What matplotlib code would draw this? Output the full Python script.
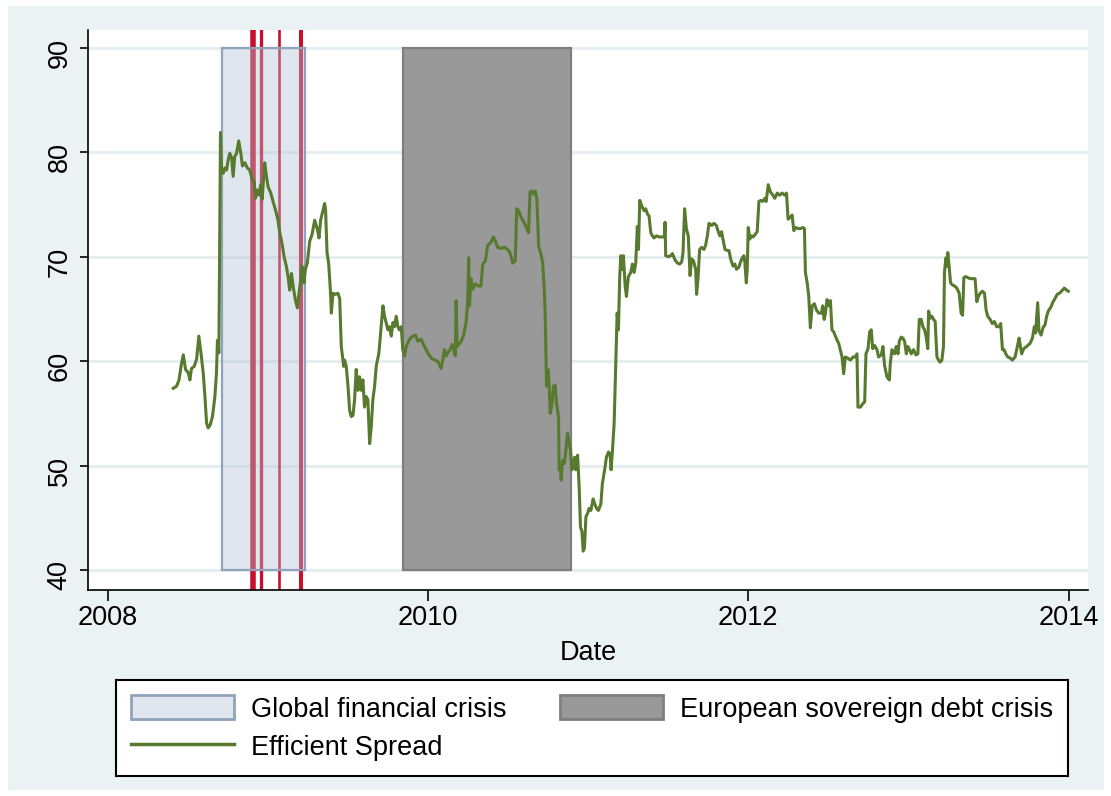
import numpy as np
import matplotlib.pyplot as plt
from matplotlib.patches import Rectangle, Patch
from matplotlib.lines import Line2D

plt.rcParams['font.family'] = ['Liberation Sans', 'DejaVu Sans']

# ------------------------------------------------------------
# DATA (decimal years)
# ------------------------------------------------------------
dates = [
    2008.410, 2008.431, 2008.446, 2008.462, 2008.473, 2008.487, 2008.504, 2008.514, 2008.524, 2008.541,
    2008.556, 2008.570, 2008.583, 2008.597, 2008.608, 2008.618, 2008.628, 2008.641, 2008.655, 2008.670,
    2008.680, 2008.686, 2008.695, 2008.701, 2008.705, 2008.711, 2008.722, 2008.732, 2008.743, 2008.753,
    2008.763, 2008.774, 2008.784, 2008.794, 2008.805, 2008.819, 2008.832, 2008.842, 2008.857, 2008.873,
    2008.888, 2008.902, 2008.915, 2008.923, 2008.936, 2008.946, 2008.956, 2008.965, 2008.975, 2008.981,
    2008.992, 2009.002, 2009.019, 2009.033, 2009.048, 2009.064, 2009.075, 2009.089, 2009.102, 2009.116,
    2009.127, 2009.137, 2009.148, 2009.158, 2009.172, 2009.185, 2009.195, 2009.206, 2009.214, 2009.226,
    2009.235, 2009.247, 2009.262, 2009.276, 2009.293, 2009.310, 2009.320, 2009.330, 2009.341, 2009.355,
    2009.361, 2009.370, 2009.380, 2009.391, 2009.397, 2009.407, 2009.422, 2009.438, 2009.449, 2009.459,
    2009.474, 2009.480,
    2009.490, 2009.501, 2009.511, 2009.521, 2009.532, 2009.542, 2009.552, 2009.563, 2009.573, 2009.584,
    2009.594, 2009.604, 2009.615, 2009.625, 2009.636, 2009.646, 2009.656, 2009.667, 2009.677, 2009.694,
    2009.708, 2009.719, 2009.729, 2009.739, 2009.750, 2009.760, 2009.771, 2009.781, 2009.791, 2009.802,
    2009.812, 2009.822, 2009.833, 2009.843, 2009.854, 2009.864, 2009.885, 2009.906, 2009.922, 2009.937,
    2009.957, 2009.978, 2009.999, 2010.020, 2010.041, 2010.061, 2010.082, 2010.092, 2010.103, 2010.113,
    2010.124, 2010.138, 2010.151, 2010.159, 2010.171, 2010.176, 2010.182, 2010.192, 2010.207, 2010.221,
    2010.238, 2010.248, 2010.254, 2010.259, 2010.269, 2010.279, 2010.296, 2010.311, 2010.331, 2010.342,
    2010.358, 2010.373, 2010.394, 2010.408, 2010.421, 2010.435, 2010.456, 2010.477, 2010.497,
    2010.508, 2010.518, 2010.529, 2010.545, 2010.554, 2010.566, 2010.581, 2010.595, 2010.612, 2010.628,
    2010.637, 2010.649, 2010.659, 2010.670, 2010.680, 2010.691, 2010.703, 2010.716, 2010.726, 2010.732,
    2010.740, 2010.749, 2010.757, 2010.763, 2010.774, 2010.784, 2010.794, 2010.803, 2010.815, 2010.819,
    2010.826, 2010.832, 2010.840, 2010.851, 2010.861, 2010.871, 2010.882, 2010.890, 2010.898, 2010.907,
    2010.915, 2010.923, 2010.934, 2010.944, 2010.952, 2010.961, 2010.969, 2010.977, 2010.986, 2010.996,
    2011.006, 2011.017, 2011.031, 2011.042, 2011.052, 2011.064, 2011.079, 2011.089, 2011.106, 2011.114,
    2011.127, 2011.137, 2011.143, 2011.152, 2011.162, 2011.172, 2011.181, 2011.189, 2011.197, 2011.204,
    2011.214, 2011.220, 2011.231, 2011.239, 2011.251, 2011.266, 2011.276, 2011.287, 2011.297, 2011.307,
    2011.314, 2011.322, 2011.334, 2011.349, 2011.359, 2011.370, 2011.380, 2011.391, 2011.401, 2011.411,
    2011.426, 2011.442, 2011.459, 2011.476, 2011.480, 2011.484, 2011.501, 2011.515, 2011.526, 2011.542,
    2011.557,
    2011.571, 2011.584, 2011.592, 2011.602, 2011.613, 2011.625, 2011.636, 2011.646, 2011.658, 2011.671,
    2011.677, 2011.685, 2011.696, 2011.708, 2011.723, 2011.733, 2011.744, 2011.754, 2011.771, 2011.785,
    2011.800, 2011.812, 2011.822, 2011.833, 2011.841, 2011.854, 2011.868, 2011.879, 2011.889, 2011.904,
    2011.916, 2011.926, 2011.941, 2011.951, 2011.962, 2011.972, 2011.978, 2011.987, 2011.993, 2011.999,
    2012.009, 2012.020, 2012.030, 2012.045, 2012.055, 2012.066, 2012.078, 2012.090, 2012.103, 2012.111,
    2012.124, 2012.138, 2012.153, 2012.165, 2012.180, 2012.194, 2012.211, 2012.227, 2012.238, 2012.248,
    2012.263, 2012.273, 2012.284, 2012.294, 2012.311, 2012.325, 2012.340, 2012.350, 2012.356, 2012.367,
    2012.377, 2012.387, 2012.398, 2012.412, 2012.425, 2012.439, 2012.456, 2012.464, 2012.473, 2012.481,
    2012.491, 2012.502, 2012.512, 2012.522, 2012.533, 2012.543, 2012.554, 2012.564, 2012.574, 2012.585,
    2012.595, 2012.605, 2012.620, 2012.637, 2012.653, 2012.668, 2012.678, 2012.684,
    2012.699, 2012.713, 2012.726, 2012.734, 2012.747, 2012.757, 2012.767, 2012.776, 2012.788, 2012.803,
    2012.813, 2012.830, 2012.840, 2012.850, 2012.865, 2012.880, 2012.886, 2012.896, 2012.913, 2012.923,
    2012.934, 2012.942, 2012.954, 2012.965, 2012.975, 2012.986, 2012.996, 2013.006, 2013.017, 2013.031,
    2013.046, 2013.058, 2013.067, 2013.079, 2013.089, 2013.100, 2013.110, 2013.120, 2013.125, 2013.135,
    2013.145, 2013.156, 2013.166, 2013.177, 2013.187, 2013.197, 2013.208, 2013.218, 2013.224, 2013.233,
    2013.239, 2013.245, 2013.253, 2013.262, 2013.274, 2013.287, 2013.301, 2013.316, 2013.328, 2013.337,
    2013.345, 2013.357, 2013.370, 2013.384, 2013.399, 2013.415, 2013.426, 2013.436, 2013.447, 2013.461,
    2013.474, 2013.484, 2013.494, 2013.509, 2013.523, 2013.536, 2013.550, 2013.565, 2013.575, 2013.586,
    2013.596, 2013.607, 2013.619, 2013.634, 2013.648, 2013.665, 2013.679, 2013.690, 2013.698, 2013.706,
    2013.719, 2013.737, 2013.758, 2013.773, 2013.785, 2013.793, 2013.806, 2013.814, 2013.827, 2013.839,
    2013.852, 2013.862, 2013.872, 2013.889, 2013.899, 2013.914, 2013.928, 2013.941, 2013.955, 2013.972,
    2013.987, 2013.997,
]

spread = [
    57.4, 57.6, 58.2, 59.8, 60.6, 59.2, 58.9, 58.2, 59.3, 59.5,
    60.2, 62.4, 60.8, 58.9, 56.6, 54.1, 53.6, 53.9, 54.7, 56.6,
    58.9, 62.0, 60.8, 73.5, 81.9, 78.3, 78.0, 78.5, 78.3, 79.3,
    79.9, 79.5, 77.7, 79.6, 79.9, 81.1, 79.9, 78.7, 79.0, 78.5,
    78.3, 77.4, 77.2, 75.6, 76.4, 75.9, 76.9, 75.5, 77.7, 79.0,
    77.7, 76.7, 76.1, 75.3, 74.5, 73.5, 72.3, 71.3, 70.0, 69.1,
    68.1, 66.8, 68.4, 67.2, 65.9, 65.1, 66.5, 67.8, 69.1, 67.5,
    68.8, 69.4, 71.5, 72.1, 73.5, 72.6, 71.8, 73.5, 74.2, 75.1,
    74.5, 70.4, 69.4, 66.8, 64.6, 66.5, 66.4, 66.5, 66.0, 61.4,
    59.5, 60.1,
    59.5, 57.6, 55.3, 54.7, 54.8, 56.3, 59.2, 57.2, 58.5, 57.2,
    58.2, 55.6, 56.6, 56.3, 52.1, 53.7, 56.3, 57.6, 59.5, 60.8,
    63.3, 65.3, 64.3, 63.7, 63.0, 63.3, 62.4, 63.7, 63.3, 64.3,
    63.3, 63.0, 63.3, 61.1, 60.5, 61.4, 62.1, 62.4, 62.5, 61.9,
    62.1, 61.4, 60.8, 60.3, 60.1, 60.0, 59.3, 60.1, 61.1, 60.5,
    60.8, 61.1, 61.6, 61.1, 60.5, 65.8, 61.4, 61.6, 61.9, 62.4,
    63.7, 65.6, 69.9, 65.3, 67.9, 66.9, 67.4, 67.2, 67.2, 69.3,
    69.6, 71.1, 71.4, 71.9, 71.5, 70.9, 70.8, 70.9, 70.7,
    70.5, 70.1, 69.4, 69.6, 74.6, 74.4, 73.8, 73.4, 72.9, 72.3,
    76.2, 76.3, 76.0, 76.3, 75.5, 71.0, 70.4, 69.4, 66.9, 64.3,
    57.6, 59.2, 57.6, 55.0, 55.9, 57.6, 57.7, 55.9, 54.7, 49.6,
    49.9, 48.6, 50.5, 50.2, 51.5, 53.1, 52.1, 51.5, 49.6, 49.9,
    50.8, 49.6, 51.0, 47.9, 44.1, 43.7, 41.8, 42.1, 45.1, 45.4,
    45.9, 45.7, 46.8, 46.3, 45.9, 45.7, 46.3, 48.3, 49.9, 50.8,
    51.3, 51.1, 49.6, 51.5, 54.0, 59.5, 64.6, 63.0, 68.1, 70.1,
    68.8, 70.1, 67.2, 66.2, 68.1, 68.5, 69.3, 68.5, 69.4, 72.9,
    70.7, 75.4, 74.9, 74.4, 74.6, 74.1, 73.9, 72.3, 72.0, 71.8,
    72.0, 71.9, 71.9, 71.9, 73.3, 70.1, 70.0, 70.1, 70.3, 69.7,
    69.4,
    69.3, 69.5, 70.4, 74.6, 72.7, 72.0, 68.2, 69.8, 69.6, 68.8,
    66.4, 67.8, 70.7, 70.9, 70.7, 71.1, 72.0, 73.2, 73.0, 73.2,
    73.0, 72.4, 72.0, 72.4, 71.7, 70.7, 70.6, 70.6, 69.8, 69.1,
    69.3, 68.8, 69.0, 69.5, 69.9, 70.1, 69.5, 67.5, 68.8, 72.8,
    71.7, 72.0, 71.9, 72.2, 72.4, 75.3, 75.4, 75.3, 75.6, 75.3,
    76.9, 76.2, 75.9, 75.6, 76.1, 75.9, 76.1, 75.9, 76.1, 73.6,
    73.8, 74.0, 72.5, 72.8, 72.7, 72.7, 72.8, 72.7, 68.5, 67.5,
    66.2, 63.2, 65.3, 65.5, 64.9, 64.6, 64.6, 65.3, 64.0, 64.6,
    65.9, 65.3, 65.8, 63.0, 62.8, 62.4, 62.0, 61.7, 61.1, 60.4,
    58.8, 60.4, 60.3, 60.1, 60.4, 60.4, 60.7, 55.6,
    55.6, 55.9, 56.1, 60.7, 61.2, 62.8, 63.0, 61.2, 61.5, 61.1,
    60.4, 60.6, 61.4, 59.6, 58.5, 58.2, 59.8, 61.1, 60.7, 61.4,
    60.7, 61.9, 62.3, 62.2, 61.9, 60.7, 61.4, 61.1, 60.7, 61.1,
    60.6, 60.7, 64.0, 64.0, 63.3, 63.0, 62.3, 61.2, 64.8, 64.1,
    64.3, 64.0, 63.8, 60.4, 60.1, 59.9, 60.1, 61.4, 68.5, 69.9,
    69.1, 70.4, 69.1, 67.5, 67.3, 67.2, 67.0, 66.5, 64.6, 64.4,
    68.0, 68.1, 68.0, 67.9, 67.9, 67.9, 65.7, 66.2, 66.5, 66.7,
    66.5, 64.9, 64.3, 64.0, 63.6, 63.8, 63.3, 63.3, 63.6, 61.1,
    61.1, 60.7, 60.4, 60.3, 60.1, 60.4, 61.4, 62.2, 61.4, 60.7,
    61.2, 61.4, 61.7, 62.2, 63.3, 62.7, 65.6, 62.9, 62.5, 63.2,
    63.5, 64.3, 64.8, 65.2, 65.6, 66.0, 66.4, 66.5, 66.7, 67.0,
    66.8, 66.7,
]

gfc_period = (2008.713, 2009.234)
debt_period = (2009.847, 2010.896)
shade_bottom, shade_top = 40, 90
event_dates = [2008.905, 2008.955, 2009.073, 2009.207]
event_widths = [4.0, 2.4, 1.9, 2.9]

year_ticks = [2008, 2010, 2012, 2014]
value_ticks = [40, 50, 60, 70, 80, 90]

# ------------------------------------------------------------
# FIGURE
# ------------------------------------------------------------
W, H = 1111, 796
FS = 19.5
fig = plt.figure(figsize=(W / 100, H / 100), dpi=100, facecolor='white')
fig.patches.append(Rectangle((8 / W, 1 - 790 / H), 1096 / W, 784 / H,
                             transform=fig.transFigure, facecolor='#EAF2F3',
                             edgecolor='none', zorder=-10))

ax = fig.add_axes([88 / W, 1 - 590 / H, 1000 / W, 560 / H])
ax.set_facecolor('white')

for v in value_ticks:
    ax.axhline(v, color='#E4EDEF', linewidth=2, zorder=0)

for d, w in zip(event_dates, event_widths):
    ax.axvline(d, color='#C8102E', linewidth=w, zorder=1)

ax.add_patch(Rectangle((gfc_period[0], shade_bottom), gfc_period[1] - gfc_period[0],
                       shade_top - shade_bottom, facecolor=(0.70, 0.76, 0.84, 0.4),
                       edgecolor='#8FA3BB', linewidth=1.6, zorder=2))
ax.add_patch(Rectangle((debt_period[0], shade_bottom), debt_period[1] - debt_period[0],
                       shade_top - shade_bottom, facecolor='#999999',
                       edgecolor='#7F7F7F', linewidth=1.6, zorder=2))

ax.plot(dates, spread, color='#587A2E', linewidth=2.2, zorder=3)

ax.set_xlim(2007.878, 2014.12)
ax.set_ylim(38.08, 91.72)
ax.set_xticks(year_ticks)
ax.set_yticks(value_ticks)
for s in ['top', 'right']:
    ax.spines[s].set_visible(False)
for s in ['left', 'bottom']:
    ax.spines[s].set_linewidth(1.2)
ax.tick_params(axis='y', labelrotation=90, length=6, width=1.2, labelsize=FS, pad=5)
ax.tick_params(axis='x', length=8, width=1.2, labelsize=FS, pad=3)
ax.set_xlabel('Date', fontsize=FS, labelpad=6)

h_gfc = Patch(facecolor='#E1E6EE', edgecolor='#8FA3BB', linewidth=2)
h_debt = Patch(facecolor='#999999', edgecolor='#7F7F7F', linewidth=2)
h_line = Line2D([], [], color='#587A2E', linewidth=2.5)
leg = fig.legend([h_gfc, h_line, h_debt],
                 ['Global financial crisis', 'Efficient Spread', 'European sovereign debt crisis'],
                 ncol=2, loc='center', bbox_to_anchor=(592 / W, 1 - 728 / H),
                 fontsize=FS, frameon=True, fancybox=False, edgecolor='black',
                 handlelength=3.8, handleheight=1.0, handletextpad=0.65,
                 columnspacing=1.95, borderpad=0.55, labelspacing=0.4)
leg.get_frame().set_linewidth(1.5)
leg.get_frame().set_alpha(1)

plt.savefig('out.png', dpi=100, facecolor='white')
